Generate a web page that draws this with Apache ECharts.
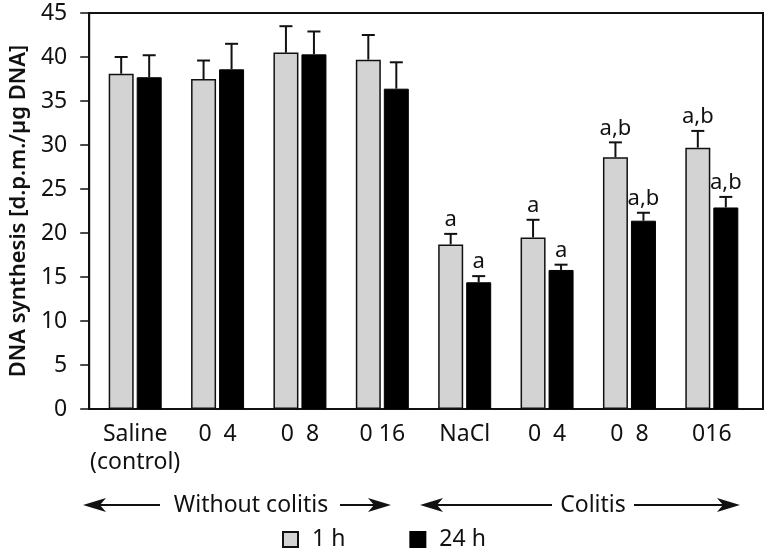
<!DOCTYPE html>
<html><head><meta charset="utf-8">
<script src="https://cdn.jsdelivr.net/npm/echarts@6/dist/echarts.min.js"></script>
<style>html,body{margin:0;padding:0;background:#fff}#c{width:765px;height:552px}</style>
</head><body><div id="c"></div>
<script>
const categories = ['Saline\n(control)', '0  4', '0  8', '0 16', 'NaCl', '0  4', '0  8', '016'];
const values1h = [38.1, 37.5, 40.5, 39.7, 18.7, 19.5, 28.6, 29.7];
const err1h = [40.0, 39.6, 43.5, 42.5, 19.9, 21.5, 30.3, 31.6];
const labels1h = ['', '', '', '', 'a', 'a', 'a,b', 'a,b'];
const values24h = [37.7, 38.6, 40.3, 36.4, 14.4, 15.8, 21.4, 22.9];
const err24h = [40.2, 41.5, 42.9, 39.4, 15.1, 16.4, 22.3, 24.1];
const labels24h = ['', '', '', '', 'a', 'a', 'a,b', 'a,b'];
const seriesNames = ['1 h', '24 h'];
const yTicks = [0, 5, 10, 15, 20, 25, 30, 35, 40, 45];

const FONT = 'Noto Sans';
const FS = 23;
const chart = echarts.init(document.getElementById('c'));

function errSeries(vals, errs, labs, offset) {
  return {
    type: 'custom', xAxisIndex: 1, yAxisIndex: 1, z: 5, silent: true,
    data: vals.map((v, i) => [i, v, errs[i]]),
    renderItem: function (params, api) {
      const i = api.value(0);
      const base = api.coord([i, api.value(1)]);
      const top = api.coord([i, api.value(2)]);
      const x = base[0] + offset;
      const lab = labs[i];
      const children = [
        { type: 'line', shape: { x1: x, y1: base[1], x2: x, y2: top[1] }, style: { stroke: '#111', lineWidth: 2 } },
        { type: 'line', shape: { x1: x - 6.5, y1: top[1], x2: x + 6.5, y2: top[1] }, style: { stroke: '#111', lineWidth: 2 } }
      ];
      if (lab) {
        children.push({ type: 'text', style: { text: lab, x: x, y: top[1] - 3, textAlign: 'center', textVerticalAlign: 'bottom', font: '22px "' + FONT + '"', fill: '#111' } });
      }
      return { type: 'group', children: children };
    }
  };
}

function arrowHead(tipX, y, dir) {
  const L = 23, H = 7, N = 6;
  return { type: 'polygon', shape: { points: [[tipX, y], [tipX + dir * L, y - H], [tipX + dir * (L - N), y], [tipX + dir * L, y + H]] }, style: { fill: '#111' } };
}
const ay = 505;
const graphics = [
  arrowHead(83, ay, 1),
  { type: 'line', shape: { x1: 98, y1: ay, x2: 160, y2: ay }, style: { stroke: '#111', lineWidth: 2 } },
  { type: 'text', style: { text: 'Without colitis', x: 251, y: ay, textAlign: 'center', textVerticalAlign: 'middle', font: FS + 'px "' + FONT + '"', fill: '#111' } },
  { type: 'line', shape: { x1: 340, y1: ay, x2: 376, y2: ay }, style: { stroke: '#111', lineWidth: 2 } },
  arrowHead(391, ay, -1),
  arrowHead(420, ay, 1),
  { type: 'line', shape: { x1: 435, y1: ay, x2: 552, y2: ay }, style: { stroke: '#111', lineWidth: 2 } },
  { type: 'text', style: { text: 'Colitis', x: 593, y: ay, textAlign: 'center', textVerticalAlign: 'middle', font: FS + 'px "' + FONT + '"', fill: '#111' } },
  { type: 'line', shape: { x1: 634, y1: ay, x2: 725, y2: ay }, style: { stroke: '#111', lineWidth: 2 } },
  arrowHead(740, ay, -1)
];

chart.setOption({
  animation: false,
  textStyle: { fontFamily: FONT },
  grid: [
    { left: 82, right: 2, top: 13, bottom: 143, show: true, borderColor: '#111', borderWidth: 2, backgroundColor: 'transparent' },
    { left: 94, right: 12, top: 13, bottom: 143 }
  ],
  legend: {
    data: seriesNames, left: 282, top: 528, padding: 0, icon: 'rect', itemWidth: 15, itemHeight: 15, itemGap: 64,
    textStyle: { fontSize: FS, color: '#111', fontFamily: FONT, padding: [0, 0, 0, 9] }
  },
  xAxis: [
    { type: 'category', gridIndex: 0, data: categories, show: false },
    { type: 'category', gridIndex: 1, data: categories, axisLine: { show: false }, axisTick: { show: false },
      axisLabel: { interval: 0, fontSize: FS, color: '#111', margin: 11, lineHeight: 28, fontFamily: FONT } }
  ],
  yAxis: [
    { type: 'value', gridIndex: 0, min: 0, max: 45, interval: 5, splitLine: { show: false },
      axisLine: { show: true, lineStyle: { color: '#111', width: 2 } },
      axisTick: { show: true, length: 9, lineStyle: { color: '#111', width: 1.5 } },
      axisLabel: { fontSize: FS, color: '#111', margin: 22, fontFamily: FONT, customValues: yTicks },
      name: 'DNA synthesis [d.p.m./µg DNA]', nameLocation: 'middle', nameGap: 58,
      nameTextStyle: { fontSize: 22, fontWeight: 600, color: '#111', fontFamily: FONT } },
    { type: 'value', gridIndex: 1, min: 0, max: 45, interval: 5, show: false }
  ],
  series: [
    { name: seriesNames[0], type: 'bar', xAxisIndex: 1, yAxisIndex: 1, data: values1h, barWidth: 25, barGap: '12%',
      itemStyle: { color: '#d3d3d3', borderColor: '#111', borderWidth: 1.5 } },
    { name: seriesNames[1], type: 'bar', xAxisIndex: 1, yAxisIndex: 1, data: values24h, barWidth: 25,
      itemStyle: { color: '#000', borderColor: '#000', borderWidth: 1 } },
    errSeries(values1h, err1h, labels1h, -14),
    errSeries(values24h, err24h, labels24h, 14)
  ],
  graphic: graphics
});
</script></body></html>
